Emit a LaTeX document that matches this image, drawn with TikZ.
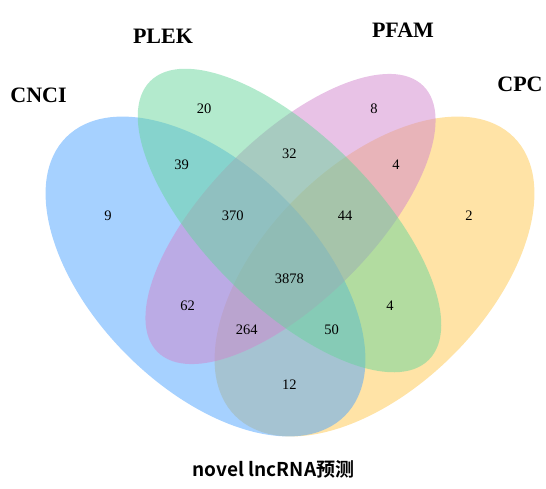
\documentclass[tikz,border=0pt]{standalone}
\usepackage{fontspec}
\setmainfont{Liberation Serif}
\newfontfamily\cjk{Noto Sans CJK SC}[BoldFont={* Bold}]
\definecolor{cnciC}{RGB}{77,163,255}
\definecolor{plekC}{RGB}{103,213,155}
\definecolor{pfamC}{RGB}{209,133,205}
\definecolor{cpcC}{RGB}{255,199,77}
\tikzset{
  setfill/.style={fill=#1, fill opacity=0.5, draw=none},
  num/.style={font=\fontsize{14.5}{16}\selectfont, inner sep=0pt, anchor=center},
  setlabel/.style={font=\fontsize{22}{24}\selectfont\bfseries, inner sep=0pt, anchor=base},
  title/.style={font=\cjk\fontsize{19}{21}\selectfont\bfseries, inner sep=0pt, anchor=base}
}
\begin{document}
\begin{tikzpicture}[x=1pt,y=-1pt]
\useasboundingbox (0,0) rectangle (546,488);
% ellipses (drawing order: CPC, CNCI, PFAM, PLEK)
\fill[setfill=cpcC, shift={(374.5,276.5)}, rotate=45] (0,0) ellipse [x radius=197pt, y radius=111pt];
\fill[setfill=cnciC, shift={(205.5,276.5)}, rotate=-45] (0,0) ellipse [x radius=197pt, y radius=111pt];
\fill[setfill=pfamC, shift={(290.5,219)}, rotate=45] (0,0) ellipse [x radius=188pt, y radius=82pt];
\fill[setfill=plekC, shift={(289.5,220.5)}, rotate=-45] (0,0) ellipse [x radius=197pt, y radius=85pt];
% set labels
\node[setlabel] (lcnci) at (38.5,102) {CNCI};
\node[setlabel] (lplek) at (163,43) {PLEK};
\node[setlabel] (lpfam) at (403,37) {PFAM};
\node[setlabel] (lcpc) at (520,91) {CPC};
% numbers
\node[num] (n20) at (204,109) {20};
\node[num] (n8) at (374,109) {8};
\node[num] (n39) at (181.7,165) {39};
\node[num] (n32) at (289.3,154) {32};
\node[num] (n4a) at (396,165) {4};
\node[num] (n9) at (108,216) {9};
\node[num] (n370) at (232.7,216) {370};
\node[num] (n44) at (345,216) {44};
\node[num] (n2) at (469,216) {2};
\node[num] (n3878) at (289.3,278.3) {3878};
\node[num] (n62) at (187.7,306) {62};
\node[num] (n4b) at (390,306) {4};
\node[num] (n264) at (246.7,329.3) {264};
\node[num] (n50) at (331.7,329.3) {50};
\node[num] (n12) at (289.3,385) {12};
% title
\node[title] (ttl) at (273.5,476.5) {novel lncRNA预测};
\end{tikzpicture}
\end{document}
